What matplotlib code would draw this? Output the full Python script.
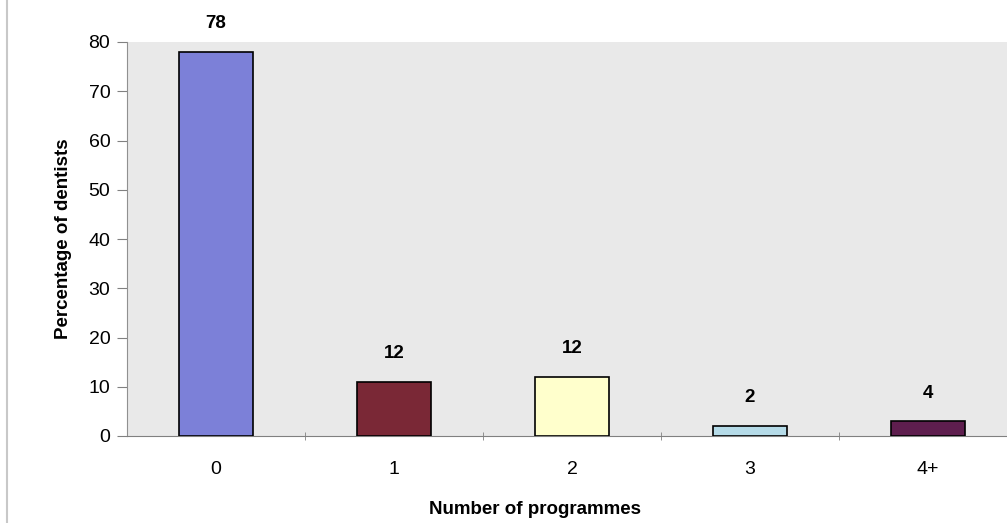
import matplotlib
matplotlib.use("Agg")
import matplotlib.pyplot as plt
from matplotlib.lines import Line2D

categories = ["0", "1", "2", "3", "4+"]
heights = [78, 11, 12, 2, 3]
value_labels = ["78", "12", "12", "2", "4"]
colors = ["#7c80d8", "#7a2836", "#ffffcc", "#b5dbe8", "#5e1e4e"]

plt.rcParams['font.family'] = ['Liberation Sans', 'DejaVu Sans']

fig = plt.figure(figsize=(10.07, 5.23), dpi=100)
ax = fig.add_axes([127/1007, 87/523, 890/1007, 394/523])
ax.set_facecolor("#e9e9e9")

x = list(range(len(categories)))
bars = ax.bar(x, heights, width=0.42, color=colors, edgecolor="black", linewidth=1.2, zorder=3)
for b, lab in zip(bars, value_labels):
    ax.text(b.get_x() + b.get_width()/2, b.get_height() + 4.0, lab,
            ha="center", va="bottom", fontsize=13.5, fontweight="bold")

ax.set_xlim(-0.5, 4.5)
ax.set_ylim(0, 80)
ax.set_yticks(range(0, 81, 10))
ax.set_xticks(x)
ax.set_xticklabels(categories, fontsize=14)
ax.set_xticks([0.5, 1.5, 2.5, 3.5], minor=True)
ax.tick_params(axis="x", which="major", length=0, pad=18)
ax.tick_params(axis="x", which="minor", length=6, color="#808080", direction="inout")
ax.tick_params(axis="y", labelsize=14, length=7, color="#808080", pad=5)
for s in ["top", "right"]:
    ax.spines[s].set_visible(False)
ax.spines["left"].set_color("#909090")
ax.spines["bottom"].set_color("#808080")

ax.set_ylabel("Percentage of dentists", fontsize=13.5, fontweight="bold", labelpad=12)
fig.text(535/1007, 1 - 509/523, "Number of programmes", ha="center", va="center",
         fontsize=13.5, fontweight="bold")

fig.add_artist(Line2D([7/1007, 7/1007], [0, 1], color="#c8c8c8", linewidth=1.5))

fig.savefig("out.png", dpi=100)
